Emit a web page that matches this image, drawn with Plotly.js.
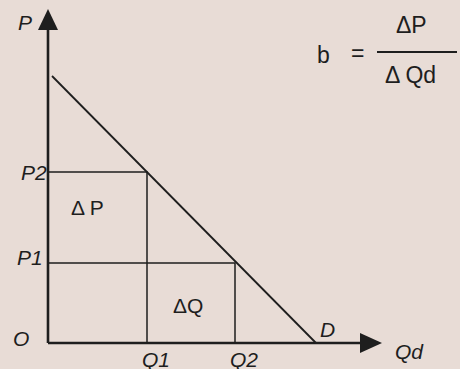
<!DOCTYPE html>
<html>
<head>
<meta charset="utf-8">
<script src="https://cdn.plot.ly/plotly-3.0.1.min.js"></script>
<style>
html,body{margin:0;padding:0;background:#e8dcd6;}
#chart{width:460px;height:369px;}
</style>
</head>
<body>
<div id="chart"></div>
<script>
// Demand curve points (Qd, P) in diagram units
const demandQ = [4, 268];
const demandP = [267, 0];
// Price and quantity levels
const P1 = 80;
const P2 = 171;
const Q1 = 99;
const Q2 = 187;
// Axis extents (arrow tips)
const qMax = 334;
const pMax = 334;
const labels = {p: "P", q: "Qd", o: "O", p1: "P1", p2: "P2", q1: "Q1", q2: "Q2", d: "D", dp: "Δ P", dq: "ΔQ"};

const ink = "#1e1e1e";
const bg = "#e8dcd6";
const traces = [
  {x: [0, 0], y: [0, pMax - 20], mode: "lines", line: {color: ink, width: 2.6}, hoverinfo: "skip"},
  {x: [0, qMax - 20], y: [0, 0], mode: "lines", line: {color: ink, width: 2.6}, hoverinfo: "skip"},
  {x: demandQ, y: demandP, mode: "lines", line: {color: ink, width: 1.8}, hoverinfo: "skip"},
  {x: [0, Q1, Q1], y: [P2, P2, 0], mode: "lines", line: {color: ink, width: 1.5}, hoverinfo: "skip"},
  {x: [0, Q2, Q2], y: [P1, P1, 0], mode: "lines", line: {color: ink, width: 1.5}, hoverinfo: "skip"}
];

const fam = "Liberation Sans, Arial, sans-serif";
const italic = {family: fam, size: 21, color: ink, style: "italic"};
const upright = {family: fam, size: 21, color: ink};
const formula = {family: fam, size: 23, color: ink};

function ann(x, y, text, font, xanchor, yanchor, xs, ys) {
  return {x: x, y: y, xref: "x", yref: "y", text: text, showarrow: false, font: font,
          xanchor: xanchor || "center", yanchor: yanchor || "middle", xshift: xs || 0, yshift: ys || 0};
}

// Diagram origin sits at pixel (48, 343); one data unit = one pixel
const W = 460, H = 369, ox = 48, oy = 343;

const annotations = [
  ann(0, pMax - 13, labels.p, italic, "right", "middle", -14, 0),
  ann(0, P2, labels.p2, italic, "right", "middle", 1, 0),
  ann(0, P1, labels.p1, italic, "right", "middle", -3, 6),
  ann(0, 0, labels.o, italic, "right", "middle", -17, 5),
  ann(Q1, 0, labels.q1, italic, "center", "top", 9, -3),
  ann(Q2, 0, labels.q2, italic, "center", "top", 9, -3),
  ann(demandQ[1], 0, labels.d, italic, "center", "middle", 11, 14),
  ann(qMax, 0, labels.q, italic, "left", "middle", 11, -8),
  ann(Q1 / 2, (P1 + P2) / 2, labels.dp, upright, "center", "middle", -10, 10),
  ann((Q1 + Q2) / 2, P1 / 2, labels.dq, upright, "center", "middle", -3, -2),
  ann(323 - ox, oy - 55, "b", formula),
  ann(357 - ox, oy - 53, "=", formula),
  ann(411 - ox, oy - 25, "ΔP", formula),
  ann(410 - ox, oy - 75, "Δ Qd", formula)
];

const shapes = [
  // y-axis arrowhead
  {type: "path", xref: "x", yref: "y", xsizemode: "pixel", ysizemode: "pixel", xanchor: 0, yanchor: pMax,
   path: "M -10,-21 L 10,-21 L 0,0 Z", fillcolor: ink, line: {width: 0}},
  // x-axis arrowhead
  {type: "path", xref: "x", yref: "y", xsizemode: "pixel", ysizemode: "pixel", xanchor: qMax, yanchor: 0,
   path: "M -22,-10 L -22,10 L 0,0 Z", fillcolor: ink, line: {width: 0}},
  // fraction bar
  {type: "line", xref: "x", yref: "y", x0: 377 - ox, x1: 457 - ox, y0: oy - 52, y1: oy - 52,
   line: {color: ink, width: 2}}
];

const layout = {
  width: W, height: H,
  margin: {l: 0, r: 0, t: 0, b: 0, pad: 0},
  paper_bgcolor: bg, plot_bgcolor: bg,
  showlegend: false,
  xaxis: {range: [-ox, W - ox], visible: false, fixedrange: true},
  yaxis: {range: [-(H - oy), oy], visible: false, fixedrange: true},
  annotations: annotations,
  shapes: shapes
};

Plotly.newPlot("chart", traces, layout, {displayModeBar: false, staticPlot: true});
</script>
</body>
</html>
